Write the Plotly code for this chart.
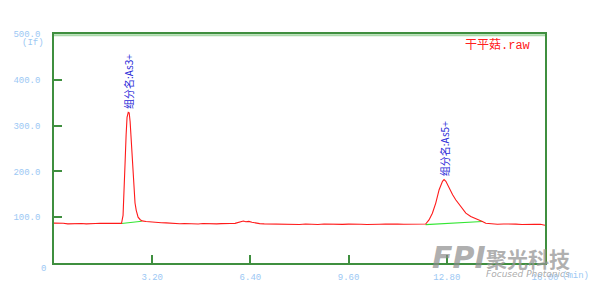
import plotly.graph_objects as go

# ---- data ----
time_min = [
    0.00, 0.15, 0.30, 0.45, 0.60, 0.75, 0.90, 1.05, 1.20, 1.35, 1.50, 1.65, 1.80, 1.95, 2.10, 2.20,
    2.25, 2.29, 2.32, 2.35, 2.38, 2.42, 2.45, 2.48, 2.51, 2.55, 2.58, 2.61, 2.64, 2.68, 2.71, 2.74,
    2.81, 2.87, 3.00, 3.10, 3.20, 3.35, 3.50, 3.65, 3.80, 3.95, 4.10, 4.25, 4.40, 4.55, 4.70, 4.85,
    5.00, 5.15, 5.30, 5.45, 5.60, 5.75, 5.90, 6.00, 6.10, 6.17, 6.25, 6.35, 6.45, 6.55, 6.70, 6.85,
    7.00, 7.20, 7.40, 7.60, 7.80, 8.00, 8.20, 8.40, 8.60, 8.80, 9.00, 9.20, 9.40, 9.60, 9.80, 10.00,
    10.20, 10.40, 10.60, 10.80, 11.00, 11.20, 11.40, 11.60, 11.80, 12.00, 12.11,
    12.22, 12.33, 12.44, 12.55, 12.66, 12.71, 12.77, 12.87, 12.99, 13.09, 13.26, 13.42, 13.58, 13.80,
    13.96, 14.07, 14.25, 14.45, 14.65, 14.85, 15.05, 15.25, 15.45, 15.65, 15.85, 16.00,
]
intensity = [
    87.0, 87.2, 86.8, 85.5, 86.3, 85.6, 86.4, 85.5, 86.6, 86.3, 86.9, 86.5, 86.2, 86.8, 86.4, 86.6,
    104.0, 159.0, 225.0, 280.0, 318.0, 329.0, 328.0, 309.0, 274.0, 230.0, 186.0, 153.0, 131.0, 115.0, 107.0, 100.0,
    94.5, 92.0, 90.5, 89.7, 88.8, 89.0, 88.0, 87.6, 86.5, 86.8, 85.8, 86.3, 85.5, 86.0, 85.2, 86.1,
    85.6, 86.0, 85.4, 85.9, 85.5, 86.1, 86.6, 88.5, 90.5, 91.8, 90.2, 90.8, 89.0, 87.3, 86.0, 85.5,
    85.2, 84.6, 85.3, 84.5, 85.0, 84.2, 85.1, 84.6, 84.0, 85.2, 84.4, 85.0, 84.3, 84.8, 85.3, 84.6,
    84.1, 85.0, 84.5, 84.9, 84.2, 85.0, 84.6, 84.3, 85.1, 84.5, 85.0,
    94.0, 108.8, 130.8, 160.0, 178.3, 182.0, 178.3, 163.7, 149.0, 138.0, 123.0, 108.8, 101.5, 95.8,
    90.5, 86.8, 85.3, 84.5, 85.2, 84.3, 84.8, 84.2, 84.9, 84.4, 84.6, 82.5,
]

# integration baselines (green)
base1_t = [2.20, 2.86]
base1_v = [86.2, 91.2]
base2_t = [12.11, 13.96]
base2_v = [84.0, 90.6]

# peak labels
peak_names = ["组分名:As3+", "组分名:As5+"]
peak_t = [2.45, 12.71]
peak_v = [329.0, 182.0]

x_ticks = [3.2, 6.4, 9.6, 12.8, 16.0]
x_ticktext = ["3.20", "6.40", "9.60", "12.80", "16.00"]
y_ticks = [100, 200, 300, 400, 500]
y_ticktext = ["100.0", "200.0", "300.0", "400.0", "500.0"]

GREEN = "#3f8f3f"
LABEL = "#9cc8f4"
MONO = "Liberation Mono, DejaVu Sans Mono, monospace"

fig = go.Figure()
fig.add_trace(go.Scatter(x=base1_t, y=base1_v, mode="lines",
                         line=dict(color="#33e633", width=1.2), hoverinfo="skip"))
fig.add_trace(go.Scatter(x=base2_t, y=base2_v, mode="lines",
                         line=dict(color="#33e633", width=1.2), hoverinfo="skip"))
fig.add_trace(go.Scatter(x=time_min, y=intensity, mode="lines",
                         line=dict(color="#ff1a1a", width=1.1)))

for name, t, v in zip(peak_names, peak_t, peak_v):
    fig.add_annotation(x=t, y=v, text=name, textangle=-90, showarrow=False,
                       xanchor="center", yanchor="bottom", yshift=1,
                       font=dict(family="Noto Sans CJK SC", size=10, color="#2a2ad8"))

# title in the plot corner
fig.add_annotation(xref="paper", yref="paper", x=0.976, y=0.955, xanchor="right", yanchor="middle",
                   text="干平菇<span style='font-family:Liberation Mono'>.raw</span>", showarrow=False,
                   font=dict(family="Noto Sans CJK SC", size=12, color="#ff2020"))

# axis extras
fig.add_annotation(xref="paper", yref="paper", x=-0.022, y=-0.026, xanchor="center", yanchor="middle",
                   text="0", showarrow=False, font=dict(family=MONO, size=9, color=LABEL))
fig.add_annotation(xref="paper", yref="paper", x=-0.016, y=0.961, xanchor="right", yanchor="middle",
                   text="(If)", showarrow=False, font=dict(family=MONO, size=9, color=LABEL))

# watermark logo
fig.add_annotation(xref="paper", yref="paper", x=0.765, y=0.026, xanchor="left", yanchor="middle",
                   text="<b><i>FPI</i></b>", showarrow=False,
                   font=dict(family="DejaVu Sans", size=30, color="rgba(140,140,140,0.7)"))
fig.add_annotation(xref="paper", yref="paper", x=0.875, y=0.024, xanchor="left", yanchor="middle",
                   text="<b>聚光科技</b>", showarrow=False,
                   font=dict(family="Noto Sans CJK SC", size=21, color="rgba(150,150,150,0.75)"))
fig.add_annotation(xref="paper", yref="paper", x=0.875, y=-0.05, xanchor="left", yanchor="middle",
                   text="<i>Focused Photonics</i>", showarrow=False,
                   font=dict(family="DejaVu Sans", size=9, color="rgba(150,150,150,0.8)"))
fig.add_annotation(xref="paper", yref="paper", x=1.062, y=-0.057, xanchor="center", yanchor="middle",
                   text="(min)", showarrow=False, font=dict(family=MONO, size=9, color=LABEL))

# top frame light band
fig.add_shape(type="line", xref="paper", yref="paper", x0=0, x1=1, y0=0.995, y1=0.995,
              line=dict(color="#a9d9a9", width=2))

fig.update_layout(
    width=600, height=297,
    margin=dict(l=54, r=55, t=34, b=34),
    paper_bgcolor="white", plot_bgcolor="white",
    showlegend=False,
    xaxis=dict(range=[0, 16.0], tickvals=x_ticks, ticktext=x_ticktext,
               showgrid=False, zeroline=False, showline=True, mirror=True,
               linecolor=GREEN, linewidth=1.5,
               ticks="inside", ticklen=8, tickcolor=GREEN, tickwidth=1.5,
               ticklabelstandoff=4,
               tickfont=dict(family=MONO, size=9, color=LABEL)),
    yaxis=dict(range=[0, 500], tickvals=y_ticks, ticktext=y_ticktext,
               showgrid=False, zeroline=False, showline=True, mirror=True,
               linecolor=GREEN, linewidth=1.5,
               ticks="inside", ticklen=8, tickcolor=GREEN, tickwidth=1.5,
               ticklabelstandoff=10,
               tickfont=dict(family=MONO, size=9, color=LABEL)),
)

fig.write_html("out.html")
